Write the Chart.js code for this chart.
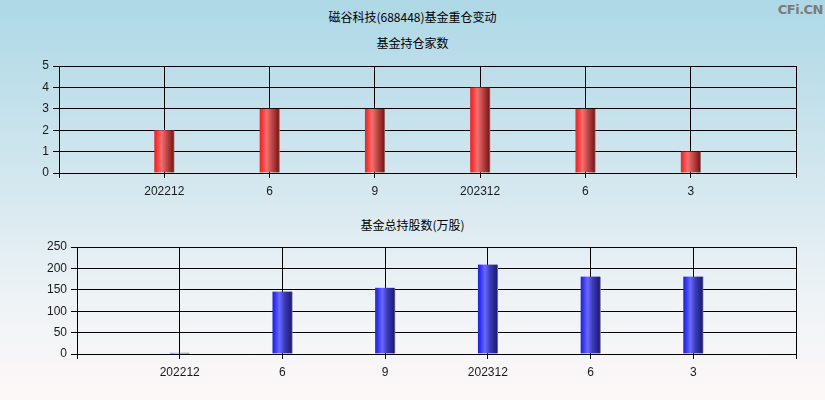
<!DOCTYPE html>
<html>
<head>
<meta charset="utf-8">
<script src="https://cdn.jsdelivr.net/npm/chart.js@4.4.1/dist/chart.umd.min.js"></script>
<style>
  html, body { margin:0; padding:0; }
  body { width:825px; height:400px; position:relative; overflow:hidden;
    background: linear-gradient(to bottom, #add8e6 0%, #d6e8ef 48%, #eef3f6 75%, #fdf8f8 100%);
    font-family: "Noto Sans CJK SC", "Liberation Sans", sans-serif; }
  .t { position:absolute; left:0; width:825px; text-align:center; font-size:12px; color:#000; line-height:14px; }
  .wm { position:absolute; right:2px; top:2px; font-family:"DejaVu Sans", sans-serif; font-weight:bold; font-size:13px; color:#7b7b7b; letter-spacing:-0.5px; }
  canvas { position:absolute; left:0; }
</style>
</head>
<body>
<div class="t" style="top:10px;">磁谷科技(688448)基金重仓变动</div>
<div class="t" style="top:36px;">基金持仓家数</div>
<div class="t" style="top:218px;">基金总持股数(万股)</div>
<div class="wm">CFi.CN</div>
<div style="position:absolute;left:0;top:0;width:825px;height:200px;"><canvas id="c1"></canvas></div>
<div style="position:absolute;left:0;top:200px;width:825px;height:200px;"><canvas id="c2"></canvas></div>
<script>
const categories = ['202212', '6', '9', '202312', '6', '3'];
const fundCount = [2, 3, 3, 4, 3, 1];
const fundShares = [3, 146, 155, 209, 181, 181];
const countTicks = [0, 1, 2, 3, 4, 5];
const shareTicks = [0, 50, 100, 150, 200, 250];

function barGradient(stops) {
  return function(ctx) {
    const chart = ctx.chart;
    const xs = chart.scales && chart.scales.x;
    if (!xs || !ctx.raw || ctx.raw.x == null) return stops[2][1];
    const cx = xs.getPixelForValue(ctx.raw.x);
    if (!isFinite(cx)) return stops[2][1];
    const g = chart.ctx.createLinearGradient(cx - 10, 0, cx + 10, 0);
    stops.forEach(s => g.addColorStop(s[0], s[1]));
    return g;
  };
}
const redStops = [[0,'#ff1c1c'],[0.12,'#ff3030'],[0.35,'#f27272'],[0.6,'#c44a4a'],[1,'#6c1414']];
const blueStops = [[0,'#1c1cff'],[0.12,'#3030ff'],[0.35,'#6a6aff'],[0.6,'#3c3cb8'],[1,'#181868']];

function makeChart(id, values, ticks, stops, yWidth, padTop, xHeight) {
  const pts = values.map((v, i) => ({ x: i + 1, y: v }));
  return new Chart(document.getElementById(id), {
    type: 'bar',
    data: { datasets: [{
      data: pts,
      backgroundColor: barGradient(stops),
      borderColor: '#808080',
      borderWidth: { left: 0, top: 0, bottom: 0, right: 1 },
      borderSkipped: false,
      barThickness: 20
    }]},
    options: {
      responsive: true, maintainAspectRatio: false, animation: false,
      layout: { padding: { top: padTop, right: 29, left: 0, bottom: 0 } },
      plugins: { legend: { display: false }, tooltip: { enabled: false }, title: { display: false } },
      scales: {
        x: {
          type: 'linear', min: 0, max: categories.length + 1, offset: false,
          afterBuildTicks: s => { s.ticks = []; for (let i = 0; i <= categories.length + 1; i++) s.ticks.push({ value: i }); },
          afterFit: s => { s.height = xHeight; },
          grid: { color: '#000', lineWidth: 1, tickLength: 5, drawTicks: true, offset: false },
          border: { display: true, color: '#000', width: 1 },
          ticks: {
            autoSkip: false, maxRotation: 0, padding: 6, color: '#1a1a1a',
            font: { family: 'Liberation Sans', size: 12 },
            callback: v => (v >= 1 && v <= categories.length) ? categories[v - 1] : ''
          }
        },
        y: {
          min: ticks[0], max: ticks[ticks.length - 1],
          afterBuildTicks: s => { s.ticks = ticks.map(v => ({ value: v })); },
          afterFit: s => { s.width = yWidth; },
          grid: { color: '#000', lineWidth: 1, tickLength: 6, drawTicks: true },
          border: { display: true, color: '#000', width: 1 },
          ticks: { padding: 4, color: '#1a1a1a', font: { family: 'Liberation Sans', size: 12 } }
        }
      }
    }
  });
}
makeChart('c1', fundCount, countTicks, redStops, 59, 66, 27);
makeChart('c2', fundShares, shareTicks, blueStops, 77, 47, 46);
</script>
</body>
</html>
